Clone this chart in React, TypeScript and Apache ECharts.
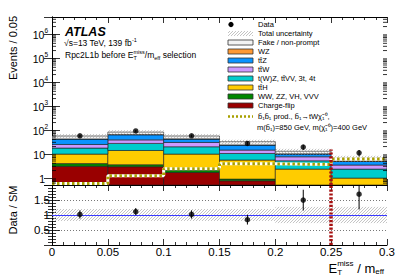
import React, { useEffect, useRef } from 'react';
import * as echarts from 'echarts';

const FONT = '"Liberation Sans", Arial, Helvetica, sans-serif';

// Bin edges of E_T^miss / m_eff
const binEdges = [0, 0.05, 0.1, 0.15, 0.2, 0.25, 0.3];

// Background yields per bin (stack order bottom -> top)
const chargeFlip = [3.0, 2.9, 1.66, 0.75, 0.1, 0.05];
const dibosonVVV = [0.9, 0.6, 0.45, 0.13, 0.1, 0.05];
const ttH = [5.8, 10.2, 7.6, 4.6, 2.1, 0.87];
const tWZ = [7.6, 13.3, 9.9, 4.8, 2.8, 1.33];
const ttW = [7.1, 11.0, 10.0, 4.0, 2.4, 1.1];
const ttZ = [16.6, 24.0, 11.4, 8.7, 2.2, 1.4];
const wz = [0.6, 1.0, 0.8, 0.5, 0.3, 0.2];
const fakeNonPrompt = [13.4, 17.0, 13.2, 8.5, 2.7, 1.5];

// Data and uncertainties
const dataCounts = [56, 89, 56, 27, 19, 11];
const dataErrors = [7.5, 9.4, 7.5, 5.2, 4.4, 3.3];
const relTotalUnc = [0.2, 0.2, 0.2, 0.2, 0.27, 0.27];

// Signal b1b1 -> tW chi
const signalYield = [0.58, 1.2, 2.4, 3.8, 3.6, 6.0];

// Selection cut
const cutValue = 0.25;
const cutLineTop = 15;

// Axis ranges
const xMin = 0, xMax = 0.3, xStep = 0.05;
const yMin = 0.5, yMax = 5e6;
const rMin = 0, rMax = 2, rStep = 0.5;
const ratioRef = 1;

const stackDefs = [
  { name: 'Charge-flip', values: chargeFlip, color: '#990000' },
  { name: 'WW, ZZ, VH, VVV', values: dibosonVVV, color: '#008800' },
  { name: 'tt\u0304H', values: ttH, color: '#ffcc00' },
  { name: 't(W)Z, tt\u0304VV, 3t, 4t', values: tWZ, color: '#00cccc' },
  { name: 'tt\u0304W', values: ttW, color: '#cc99ff' },
  { name: 'tt\u0304Z', values: ttZ, color: '#0a93ff' },
  { name: 'WZ', values: wz, color: '#ff9933' },
  { name: 'Fake / non-prompt', values: fakeNonPrompt, color: '#f3f3f3' },
];

const signalLabel1 = 'b\u0303\u2081b\u0303\u2081 prod., b\u0303\u2081\u2192tW\u03c7\u0303\u2081\u2070,';
const signalLabel2 = 'm(b\u0303\u2081)=850 GeV, m(\u03c7\u0303\u2081\u2070)=400 GeV';

const OLIVE = '#a8a000';
const HATCH = '#a4a4a4';

function hatchLines(x: number, y: number, w: number, h: number, step: number, color: string) {
  const out: any[] = [];
  if (w <= 0 || h <= 0) return out;
  const start = Math.ceil((x + y) / step) * step;
  for (let c = start; c < x + w + y + h; c += step) {
    const X1 = Math.max(x, c - (y + h));
    const X2 = Math.min(x + w, c - y);
    if (X2 > X1) {
      out.push({ type: 'line', silent: true, shape: { x1: X1, y1: c - X1, x2: X2, y2: c - X2 }, style: { stroke: color, lineWidth: 0.65 } });
    }
  }
  return out;
}

function buildOption() {
  const canvas = document.createElement('canvas');
  const ctx = canvas.getContext('2d') as CanvasRenderingContext2D;
  const tw = (t: string, size: number, weight = 'normal', style = 'normal') => {
    ctx.font = `${style} ${weight} ${size}px ${FONT}`;
    return ctx.measureText(t).width;
  };

  type Seg = { t: string; size: number; dy?: number; stack?: boolean };
  const segs = (parts: Seg[], x: number, y: number, align: 'left' | 'right' = 'left') => {
    const pos: number[] = [];
    let cursor = 0, prevStart = 0, prevW = 0;
    parts.forEach((p) => {
      const w = tw(p.t, p.size);
      if (p.stack) {
        pos.push(prevStart);
        cursor = prevStart + Math.max(prevW, w);
        prevW = Math.max(prevW, w);
      } else {
        pos.push(cursor);
        prevStart = cursor;
        prevW = w;
        cursor += w;
      }
    });
    const off = align === 'right' ? x - cursor : x;
    return parts.map((p, i) => ({
      type: 'text',
      x: off + pos[i],
      y: y + (p.dy || 0),
      silent: true,
      style: { text: p.t, fontSize: p.size, fontFamily: FONT, fill: '#000', align: 'left', verticalAlign: 'middle' },
    }));
  };

  const nBins = binEdges.length - 1;
  let running = new Array(nBins).fill(0);
  const stackRanges: { lo: number[]; hi: number[] }[] = [];
  stackDefs.forEach((d) => {
    const lo = running.slice();
    running = running.map((r, i) => r + d.values[i]);
    stackRanges.push({ lo, hi: running.slice() });
  });
  const totals = running;
  const centers = binEdges.slice(0, -1).map((e, i) => (e + binEdges[i + 1]) / 2);
  const ratios = dataCounts.map((d, i) => d / totals[i]);
  const ratioErr = dataErrors.map((e, i) => e / totals[i]);

  const rectRender = (color: string, clampMin: number) => (params: any, api: any) => {
    const lo = Math.max(api.value(2), clampMin);
    const hi = Math.max(api.value(3), clampMin);
    if (hi <= lo) return null;
    const a = api.coord([api.value(0), hi]);
    const b = api.coord([api.value(1), lo]);
    return {
      type: 'rect',
      shape: { x: a[0], y: a[1], width: b[0] - a[0], height: b[1] - a[1] },
      style: { fill: color, stroke: '#1c1c1c', lineWidth: 0.6 },
    };
  };

  const hatchRender = (clampMin: number) => (params: any, api: any) => {
    const lo = Math.max(api.value(2), clampMin);
    const hi = Math.max(api.value(3), clampMin);
    const a = api.coord([api.value(0), hi]);
    const b = api.coord([api.value(1), lo]);
    return { type: 'group', children: hatchLines(a[0], a[1], b[0] - a[0], b[1] - a[1], 3, HATCH) };
  };

  const errRender = (params: any, api: any) => {
    const x = api.value(0);
    const a = api.coord([x, api.value(1)]);
    const b = api.coord([x, api.value(2)]);
    return { type: 'line', shape: { x1: a[0], y1: a[1], x2: b[0], y2: b[1] }, style: { stroke: '#000', lineWidth: 1 } };
  };

  // minor log ticks (2..9 per decade)
  const minorVals: number[] = [];
  for (let k = -1; k <= 7; k++) {
    for (let m = 2; m <= 9; m++) {
      const v = m * Math.pow(10, k);
      if (v > yMin && v < yMax) minorVals.push(v);
    }
  }
  const minorRender = (params: any, api: any) => {
    const v = api.value(1);
    const l = api.coord([xMin, v]);
    const r = api.coord([xMax, v]);
    return {
      type: 'group',
      children: [
        { type: 'line', shape: { x1: l[0], y1: l[1], x2: l[0] + 4, y2: l[1] }, style: { stroke: '#000', lineWidth: 0.8 } },
        { type: 'line', shape: { x1: r[0] - 4, y1: r[1], x2: r[0], y2: r[1] }, style: { stroke: '#000', lineWidth: 0.8 } },
      ],
    };
  };

  const signalSteps: number[][] = [];
  signalYield.forEach((v, i) => {
    signalSteps.push([binEdges[i], v]);
    signalSteps.push([binEdges[i + 1], v]);
  });

  const series: any[] = [];
  stackDefs.forEach((d, k) => {
    series.push({
      type: 'custom',
      name: d.name,
      xAxisIndex: 0,
      yAxisIndex: 0,
      clip: true,
      z: 2,
      renderItem: rectRender(d.color, yMin),
      encode: { x: 0, y: 3 },
      data: binEdges.slice(0, -1).map((e, i) => [e, binEdges[i + 1], stackRanges[k].lo[i], stackRanges[k].hi[i]]),
    });
  });
  series.push({
    type: 'custom',
    name: 'Total uncertainty',
    xAxisIndex: 0,
    yAxisIndex: 0,
    clip: true,
    z: 3,
    renderItem: hatchRender(yMin),
    encode: { x: 0, y: 3 },
    data: totals.map((t, i) => [binEdges[i], binEdges[i + 1], t * (1 - relTotalUnc[i]), t * (1 + relTotalUnc[i])]),
  });
  series.push({
    type: 'custom',
    name: 'minor ticks',
    xAxisIndex: 0,
    yAxisIndex: 0,
    clip: false,
    z: 9,
    silent: true,
    renderItem: minorRender,
    encode: { x: 0, y: 1 },
    data: minorVals.map((v) => [xMin, v]),
  });
  series.push({
    type: 'line',
    name: 'signal-bg',
    xAxisIndex: 0,
    yAxisIndex: 0,
    z: 4,
    symbol: 'none',
    lineStyle: { color: '#ffffff', width: 3, cap: 'butt' },
    data: signalSteps,
  });
  series.push({
    type: 'line',
    name: 'signal',
    xAxisIndex: 0,
    yAxisIndex: 0,
    z: 4,
    symbol: 'none',
    lineStyle: { color: OLIVE, width: 3, type: [2.5, 2.5], cap: 'butt' },
    data: signalSteps,
    markLine: {
      silent: true,
      symbol: 'none',
      label: { show: false },
      lineStyle: { color: '#a50f0f', width: 3.5, type: [2.2, 1.6] },
      data: [[{ coord: [cutValue, yMin] }, { coord: [cutValue, cutLineTop] }]],
    },
  });
  series.push({
    type: 'custom',
    name: 'data err',
    xAxisIndex: 0,
    yAxisIndex: 0,
    z: 6,
    renderItem: errRender,
    encode: { x: 0, y: 1 },
    data: dataCounts.map((d, i) => [centers[i], d - dataErrors[i], d + dataErrors[i]]),
  });
  series.push({
    type: 'scatter',
    name: 'Data',
    xAxisIndex: 0,
    yAxisIndex: 0,
    z: 7,
    symbolSize: 5.5,
    itemStyle: { color: '#000' },
    data: dataCounts.map((d, i) => [centers[i], d]),
  });

  // ratio panel
  series.push({
    type: 'custom',
    name: 'ratio band',
    xAxisIndex: 2,
    yAxisIndex: 2,
    clip: true,
    z: 3,
    renderItem: hatchRender(rMin),
    encode: { x: 0, y: 3 },
    data: relTotalUnc.map((u, i) => [binEdges[i], binEdges[i + 1], ratioRef - u, ratioRef + u]),
  });
  series.push({
    type: 'custom',
    name: 'ratio err',
    xAxisIndex: 2,
    yAxisIndex: 2,
    clip: true,
    z: 6,
    renderItem: errRender,
    encode: { x: 0, y: 1 },
    data: ratios.map((r, i) => [centers[i], r - ratioErr[i], r + ratioErr[i]]),
  });
  series.push({
    type: 'scatter',
    name: 'Data / SM',
    xAxisIndex: 2,
    yAxisIndex: 2,
    z: 7,
    symbolSize: 5.5,
    itemStyle: { color: '#000' },
    data: ratios.map((r, i) => [centers[i], r]),
    markLine: {
      silent: true,
      symbol: 'none',
      label: { show: false },
      data: [
        { yAxis: ratioRef, lineStyle: { color: '#3a3aff', width: 1, type: 'solid' } },
        { xAxis: cutValue, lineStyle: { color: '#a50f0f', width: 3.5, type: [2.2, 1.6] } },
      ],
    },
  });

  const baseX = (gridIndex: number, position: 'top' | 'bottom', labels: boolean) => ({
    type: 'value',
    gridIndex,
    position,
    min: xMin,
    max: xMax,
    interval: xStep,
    axisLine: { show: true, onZero: false, lineStyle: { color: '#000', width: 1 } },
    axisTick: { show: true, inside: true, length: 6, lineStyle: { color: '#000', width: 0.8 } },
    minorTick: { show: true, splitNumber: 5, length: 3, lineStyle: { color: '#000', width: 0.8 } },
    axisLabel: { show: labels, fontSize: 11.5, color: '#000', fontFamily: FONT, margin: 1 },
    splitLine: { show: false },
  });

  const logLabel = (v: number) => {
    const e = Math.round(Math.log10(v));
    if (e === 0) return '{b|1}{p| }';
    if (e === 1) return '{b|10}{p| }';
    return `{b|10}{s|${e}}`;
  };

  const baseLogY = (position: 'left' | 'right', labels: boolean) => ({
    type: 'log',
    logBase: 10,
    gridIndex: 0,
    position,
    min: yMin,
    max: yMax,
    axisLine: { show: true, lineStyle: { color: '#000', width: 1 } },
    axisTick: { show: true, inside: true, length: 8, lineStyle: { color: '#000', width: 0.8 } },
    axisLabel: {
      show: labels,
      showMinLabel: false,
      showMaxLabel: false,
      margin: 4,
      color: '#000',
      fontFamily: FONT,
      fontSize: 10.5,
      formatter: logLabel,
      rich: {
        b: { fontSize: 10.5, fontFamily: FONT, color: '#000', verticalAlign: 'bottom', lineHeight: 14 },
        s: { fontSize: 6.5, fontFamily: FONT, color: '#000', verticalAlign: 'top', lineHeight: 14 },
        p: { fontSize: 6.5, width: 3, lineHeight: 14 },
      },
    },
    splitLine: { show: false },
  });

  const baseRatioY = (position: 'left' | 'right', labels: boolean) => ({
    type: 'value',
    gridIndex: 1,
    position,
    min: rMin,
    max: rMax,
    interval: rStep,
    axisLine: { show: true, lineStyle: { color: '#000', width: 1 } },
    axisTick: { show: true, inside: true, length: 8, lineStyle: { color: '#000', width: 0.8 } },
    minorTick: { show: true, splitNumber: 5, length: 4, lineStyle: { color: '#000', width: 0.8 } },
    axisLabel: {
      show: labels,
      margin: 2,
      color: '#000',
      fontFamily: FONT,
      fontSize: 11.5,
      formatter: (v: number) => (v === rMin || v === rMax ? '' : String(v)),
    },
    splitLine: { show: labels, lineStyle: { color: '#555', width: 0.8, type: [1, 2] } },
  });

  // graphic texts & legend
  const graphic: any[] = [];
  graphic.push({
    type: 'text', x: 65, y: 32, silent: true,
    style: { text: 'ATLAS', fontSize: 12.5, fontWeight: 'bold', fontStyle: 'italic', fontFamily: FONT, fill: '#000', align: 'left', verticalAlign: 'middle' },
  });
  graphic.push(...segs([{ t: '\u221as=13 TeV, 139 fb', size: 8.5 }, { t: '-1', size: 5.5, dy: -3 }], 64, 43));
  graphic.push(
    ...segs(
      [
        { t: 'Rpc2L1b before E', size: 8.5 },
        { t: 'miss', size: 5.5, dy: -3 },
        { t: 'T', size: 5.5, dy: 3, stack: true },
        { t: '/m', size: 8.5 },
        { t: 'eff', size: 5.5, dy: 2.5 },
        { t: ' selection', size: 8.5 },
      ],
      65,
      55
    )
  );
  graphic.push({
    type: 'text', x: 13, y: 48, rotation: Math.PI / 2, silent: true,
    style: { text: 'Events / 0.05', fontSize: 11, fontFamily: FONT, fill: '#000', align: 'center', verticalAlign: 'middle' },
  });
  graphic.push({
    type: 'text', x: 13, y: 210, rotation: Math.PI / 2, silent: true,
    style: { text: 'Data / SM', fontSize: 11, fontFamily: FONT, fill: '#000', align: 'center', verticalAlign: 'middle' },
  });
  graphic.push(
    ...segs(
      [
        { t: 'E', size: 13 },
        { t: 'miss', size: 8, dy: -4.5 },
        { t: 'T', size: 8, dy: 4, stack: true },
        { t: ' / m', size: 13 },
        { t: 'eff', size: 8, dy: 3.5 },
      ],
      384,
      268,
      'right'
    )
  );

  // legend
  const lgX = 228, lgW = 25, lgH = 5, lgText = 258, lgY0 = 24.5, lgDy = 9;
  const legendRows: { kind: string; label: string; color?: string }[] = [
    { kind: 'dot', label: 'Data' },
    { kind: 'hatch', label: 'Total uncertainty' },
    ...stackDefs.slice().reverse().map((d) => ({ kind: 'box', label: d.name, color: d.color })),
  ];
  legendRows.forEach((row, i) => {
    const y = lgY0 + i * lgDy;
    if (row.kind === 'dot') {
      graphic.push({ type: 'circle', silent: true, shape: { cx: 231, cy: y, r: 2.6 }, style: { fill: '#000' } });
    } else if (row.kind === 'hatch') {
      graphic.push({ type: 'group', silent: true, children: hatchLines(lgX, y - lgH / 2, lgW, lgH, 3, HATCH) });
    } else {
      graphic.push({
        type: 'rect', silent: true,
        shape: { x: lgX, y: y - lgH / 2, width: lgW, height: lgH },
        style: { fill: row.color, stroke: '#333', lineWidth: 0.8 },
      });
    }
    graphic.push({
      type: 'text', x: lgText, y, silent: true,
      style: { text: row.label, fontSize: 7.5, fontFamily: FONT, fill: '#000', align: 'left', verticalAlign: 'middle' },
    });
  });
  const sy = lgY0 + (legendRows.length - 1) * lgDy + 11;
  graphic.push({
    type: 'line', silent: true,
    shape: { x1: lgX, y1: sy, x2: lgX + lgW, y2: sy },
    style: { stroke: OLIVE, lineWidth: 2.5, lineDash: [2, 2] },
  });
  graphic.push({
    type: 'text', x: lgText, y: sy, silent: true,
    style: { text: signalLabel1, fontSize: 7.5, fontFamily: FONT, fill: '#000', align: 'left', verticalAlign: 'middle' },
  });
  graphic.push({
    type: 'text', x: lgText - 1, y: sy + 11, silent: true,
    style: { text: signalLabel2, fontSize: 7.5, fontFamily: FONT, fill: '#000', align: 'left', verticalAlign: 'middle' },
  });

  return {
    animation: false,
    backgroundColor: '#ffffff',
    textStyle: { fontFamily: FONT },
    grid: [
      { left: 52, top: 17, width: 335, height: 168, outerBoundsMode: 'none', containLabel: false },
      { left: 52, top: 185, width: 335, height: 60, outerBoundsMode: 'none', containLabel: false },
    ],
    xAxis: [baseX(0, 'bottom', false), baseX(0, 'top', false), baseX(1, 'bottom', true), baseX(1, 'top', false)],
    yAxis: [baseLogY('left', true), baseLogY('right', false), baseRatioY('left', true), baseRatioY('right', false)],
    series,
    graphic,
  };
}

export default function App() {
  const ref = useRef<HTMLDivElement>(null);
  useEffect(() => {
    if (!ref.current) return;
    const chart = echarts.init(ref.current, null, { renderer: 'svg' });
    chart.setOption(buildOption() as any);
    return () => chart.dispose();
  }, []);
  return (
    <div
      ref={ref}
      style={{ position: 'fixed', left: 0, top: 0, width: 407, height: 276, background: '#fff' }}
    />
  );
}
